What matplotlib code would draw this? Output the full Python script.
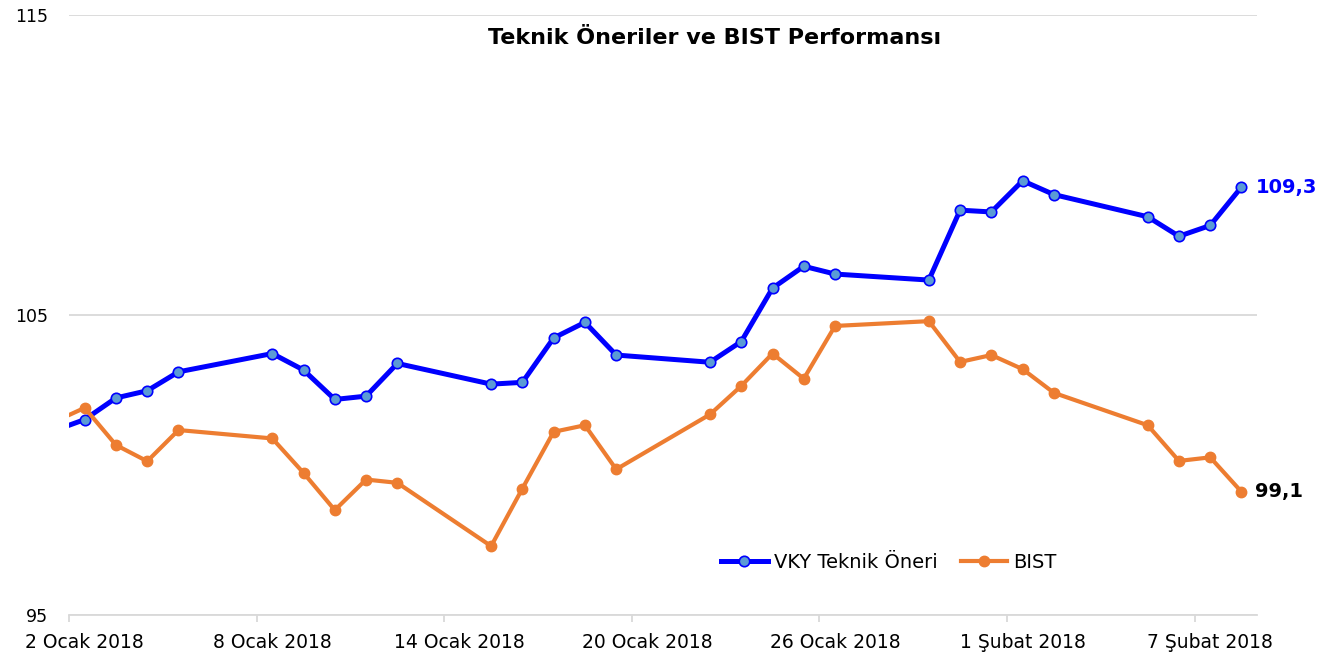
import pandas as pd
import numpy as np
import matplotlib
matplotlib.use('Agg')
import matplotlib.pyplot as plt

########
# Data #
########

dates = ['2017-12-29',
         '2018-01-02', '2018-01-03', '2018-01-04', '2018-01-05',
         '2018-01-08', '2018-01-09', '2018-01-10', '2018-01-11', '2018-01-12',
         '2018-01-15', '2018-01-16', '2018-01-17', '2018-01-18', '2018-01-19',
         '2018-01-22', '2018-01-23', '2018-01-24', '2018-01-25', '2018-01-26',
         '2018-01-29', '2018-01-30', '2018-01-31', '2018-02-01', '2018-02-02',
         '2018-02-05', '2018-02-06', '2018-02-07', '2018-02-08']

vky = [100.0,
       101.52, 102.24, 102.48, 103.11,
       103.72, 103.17, 102.19, 102.30, 103.39,
       102.70, 102.76, 104.24, 104.76, 103.67,
       103.43, 104.12, 105.90, 106.63, 106.37,
       106.17, 108.50, 108.44, 109.48, 109.02,
       108.28, 107.63, 107.99, 109.27]

bist = [100.0,
        101.91, 100.67, 100.13, 101.17,
        100.89, 99.74, 98.50, 99.52, 99.41,
        97.30, 99.22, 101.11, 101.33, 99.86,
        101.69, 102.64, 103.72, 102.88, 104.64,
        104.80, 103.44, 103.67, 103.20, 102.41,
        101.33, 100.14, 100.26, 99.11]

tick_dates = ['2018-01-02', '2018-01-08', '2018-01-14', '2018-01-20',
              '2018-01-26', '2018-02-01', '2018-02-07']
tick_labels = ['2 Ocak 2018', '8 Ocak 2018', '14 Ocak 2018', '20 Ocak 2018',
               '26 Ocak 2018', '1 Şubat 2018', '7 Şubat 2018']
yticks = [95, 105, 115]

########
# Plot #
########

plt.rcParams['font.family'] = ['DejaVu Sans']

# Excel date axis puts each day's point (and label) in the middle of its slot
half = pd.Timedelta(hours=12)
x = pd.to_datetime(dates) + half
tx = pd.to_datetime(tick_dates)

fig = plt.figure(figsize=(13.23, 6.6), dpi=100)
ax = fig.add_axes([0.0522, 0.068, 0.898, 0.909])

ax.plot(x, vky, '-o', color='#0000FF', lw=3.6, ms=7.5,
        mfc='#5B9BD5', mec='#0000FF', mew=1.2, label='VKY Teknik Öneri', zorder=3)
ax.plot(x, bist, '-o', color='#ED7D31', lw=3.0, ms=7.5,
        mfc='#ED7D31', mec='#ED7D31', label='BIST', zorder=3)

ax.set_xlim(pd.Timestamp('2018-01-02'), pd.Timestamp('2018-02-09'))
ax.set_ylim(95, 115)
ax.set_yticks(yticks)
ax.set_yticklabels([str(v) for v in yticks], fontsize=12.5)

# tick marks at slot edges, labels at slot centres
ax.set_xticks(tx)
ax.set_xticklabels([])
ax.set_xticks(tx + half, minor=True)
ax.set_xticklabels(tick_labels, minor=True, fontsize=13.5)

ax.grid(axis='y', color='#D9D9D9', lw=1.3)
ax.set_axisbelow(True)
for s in ['top', 'right', 'left']:
    ax.spines[s].set_visible(False)
ax.spines['bottom'].set_color('#D9D9D9')
ax.spines['bottom'].set_linewidth(1.3)
ax.tick_params(axis='y', length=0, pad=15)
ax.tick_params(axis='x', which='major', length=5, color='#D9D9D9', width=1.3)
ax.tick_params(axis='x', which='minor', length=0, pad=13)

# end labels
ax.annotate('109,3', (x[-1], vky[-1]), xytext=(10, 0), textcoords='offset points',
            ha='left', va='center', fontsize=14, fontweight='bold', color='#0000FF',
            annotation_clip=False)
ax.annotate('99,1', (x[-1], bist[-1]), xytext=(10, 0), textcoords='offset points',
            ha='left', va='center', fontsize=14, fontweight='bold', color='black',
            annotation_clip=False)

ax.legend(loc='center', bbox_to_anchor=(0.69, 0.088), ncol=2, frameon=False,
          fontsize=14, handlelength=2.4, columnspacing=1.2, handletextpad=0.3)

fig.text(0.540, 0.942, 'Teknik Öneriler ve BIST Performansı', ha='center', va='center',
         fontsize=16, fontweight='bold')

fig.savefig('out.png', dpi=100)
